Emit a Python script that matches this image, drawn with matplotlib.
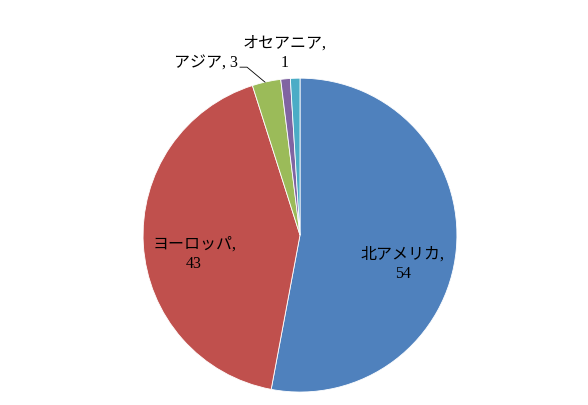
import matplotlib
matplotlib.use('Agg')
import matplotlib.pyplot as plt

labels = ['北アメリカ', 'ヨーロッパ', 'アジア', 'オセアニア', 'その他']
values = [54, 43, 3, 1, 1]
colors = ['#4F81BD', '#C0504D', '#9BBB59', '#8064A2', '#4BACC6']

plt.rcParams['font.family'] = ['Liberation Serif', 'Noto Sans CJK JP']

fig = plt.figure(figsize=(5.88, 4.05), dpi=100)
ax = fig.add_axes([0.2432, 0.032, 0.534, 0.775])
ax.pie(values, colors=colors, startangle=90, counterclock=False, radius=1,
       wedgeprops=dict(edgecolor='white', linewidth=0.6))
ax.set_xlim(-1, 1)
ax.set_ylim(-1, 1)
ax.set_aspect('equal')
ax.axis('off')

fs = 11.5
ax.text(0.656, -0.185, f'{labels[0]},\n{values[0]}', ha='center', va='center', fontsize=fs, linespacing=1.3)
ax.text(-0.675, -0.121, f'{labels[1]},\n{values[1]}', ha='center', va='center', fontsize=fs, linespacing=1.3)
ax.text(-0.599, 1.095, f'{labels[2]}, {values[2]}', ha='center', va='center', fontsize=fs)
ax.text(-0.096, 1.159, f'{labels[3]},\n{values[3]}', ha='center', va='center', fontsize=fs, linespacing=1.3)

# leader line for アジア
px = [240, 247, 265]
py = [67, 67, 82]
ax.plot([(x - 300) / 157 for x in px], [(235 - y) / 157 for y in py],
        color='black', linewidth=0.6, clip_on=False)

fig.savefig('out.png', dpi=100)
